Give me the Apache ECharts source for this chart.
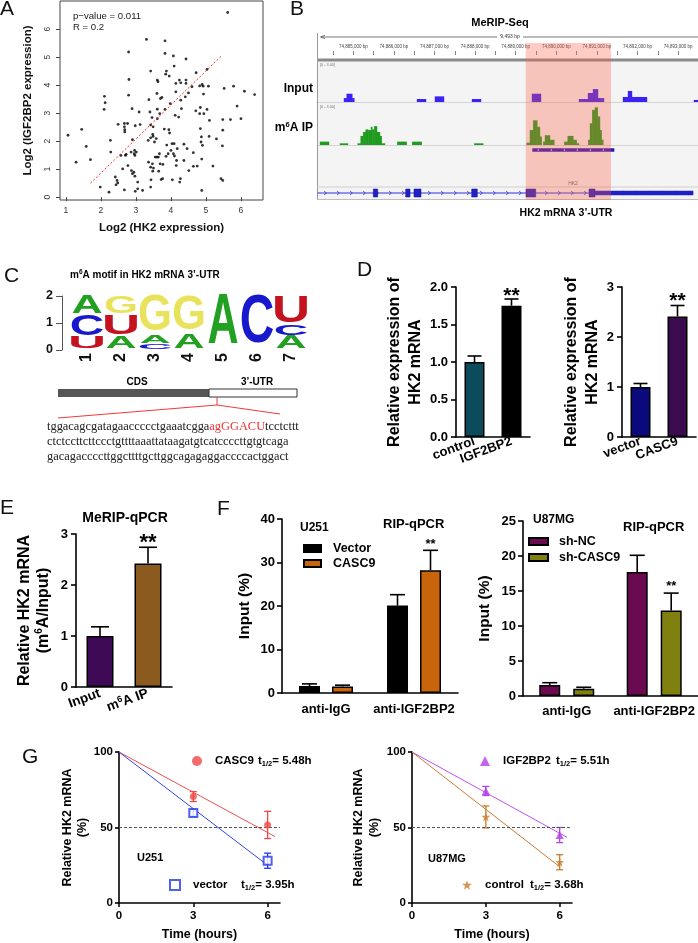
<!DOCTYPE html>
<html><head><meta charset="utf-8">
<script src="https://cdn.jsdelivr.net/npm/echarts@6.0.0/dist/echarts.min.js"></script>
<style>html,body{margin:0;padding:0;background:#fff;}#chart{width:698px;height:943px;}</style>
</head><body><div id="chart"></div>
<script>
// ================= DATA =================
// Panel A: correlation scatter (x = Log2 HK2, y = Log2 IGF2BP2)
const hk2VsIgf2bp2 = [[5.62,6.59],[3.30,5.63],[3.83,5.58],[2.79,5.18],[3.83,5.13],[4.07,5.04],[4.43,4.93],[4.09,4.68],[5.03,4.56],[3.42,4.50],[3.87,4.50],[3.85,4.39],[4.72,4.44],[3.95,4.32],[2.80,4.20],[3.61,4.18],[3.63,4.12],[4.24,4.18],[4.43,4.18],[4.28,4.08],[4.14,4.06],[4.43,4.06],[4.89,4.02],[4.82,3.97],[4.92,3.96],[5.07,3.96],[4.60,3.94],[5.52,3.88],[5.79,3.96],[6.10,3.78],[6.39,3.66],[2.10,3.60],[2.79,3.64],[3.60,3.70],[4.41,3.58],[4.14,3.76],[4.50,3.72],[4.93,3.68],[3.70,3.52],[3.74,3.56],[3.37,3.48],[2.12,3.37],[4.28,3.46],[3.98,3.34],[4.30,3.16],[4.84,3.20],[5.89,3.25],[2.09,3.13],[2.89,3.16],[3.61,3.14],[3.83,3.13],[4.71,3.08],[5.03,3.13],[3.09,3.04],[3.40,3.04],[4.82,2.98],[4.94,2.98],[3.68,2.98],[4.12,2.92],[4.22,2.86],[5.10,2.74],[5.70,2.77],[6.00,2.80],[5.48,2.77],[3.46,2.84],[3.61,2.80],[2.49,2.60],[2.67,2.63],[2.76,2.63],[3.12,2.59],[2.98,2.55],[3.42,2.58],[3.49,2.51],[2.67,2.51],[2.68,2.41],[1.45,2.42],[3.81,2.43],[3.94,2.41],[4.84,2.45],[5.48,2.39],[2.68,2.33],[3.48,2.24],[3.96,2.29],[3.42,2.12],[3.49,2.17],[1.06,2.21],[3.58,2.09],[2.90,2.05],[3.35,2.03],[2.27,2.03],[4.87,2.15],[5.09,2.17],[5.30,2.08],[3.53,1.97],[4.86,1.97],[4.03,1.91],[4.09,1.91],[4.37,1.89],[1.58,1.81],[4.90,1.85],[3.88,1.86],[5.47,1.83],[4.18,1.73],[2.96,1.67],[3.01,1.61],[2.95,1.55],[2.86,1.61],[4.46,1.73],[4.00,1.67],[2.28,1.61],[4.07,1.55],[2.57,1.49],[2.70,1.49],[2.72,1.53],[2.97,1.49],[3.92,1.55],[4.64,1.59],[3.55,1.43],[3.60,1.43],[3.64,1.43],[3.67,1.55],[3.86,1.46],[4.10,1.47],[4.16,1.31],[1.70,1.34],[4.37,1.31],[4.88,1.36],[1.29,1.25],[3.36,1.25],[3.47,1.19],[3.69,1.19],[3.77,1.17],[2.77,1.13],[4.15,1.13],[5.20,1.11],[4.64,1.10],[4.75,1.11],[3.42,1.07],[3.50,1.04],[2.62,1.01],[2.87,0.95],[2.94,0.89],[3.48,0.93],[3.65,0.93],[4.51,0.95],[2.41,0.72],[2.46,0.60],[2.48,0.51],[2.43,0.44],[2.90,0.84],[2.97,0.75],[3.05,0.54],[3.43,0.62],[3.72,0.63],[3.76,0.66],[4.04,0.62],[4.27,0.66],[4.25,0.54],[5.43,0.66],[5.48,0.60],[1.98,0.36],[2.23,0.18],[2.67,0.26],[2.98,0.21],[3.05,0.30],[3.19,0.24],[3.42,0.36],[4.88,0.24]];
const fitLineA = [[1.7,0.5],[5.45,5.05]];
const statsA = ['p\u2212value = 0.011', 'R = 0.2'];
const ticksAX = [1,2,3,4,5,6];
const ticksAY = [0,1,2,3,4,5,6];

// Panel B: MeRIP-Seq browser view (genomic coordinates, coverage 0-3)
const regionStart = 74884106, regionEnd = 74893490;
const regionLengthLabel = '9,493 bp';
const rulerLabelPos = [74885000,74886000,74887000,74888000,74889000,74890000,74891000,74892000,74893000];
const rulerTickPos = [74884500,74885000,74885500,74886000,74886500,74887000,74887500,74888000,74888500,74889000,74889500,74890000,74890500,74891000,74891500,74892000,74892500,74893000];
const inputCoverage = [
  [74884771,74884837,0.33],[74884837,74884975,0.69],[74884975,74885025,0.33],
  [74886569,74886791,0.25],
  [74887012,74887234,0.47],
  [74887924,74888145,0.25],
  [74889401,74889623,0.69],
  [74890559,74890781,0.25],[74890781,74890904,0.75],[74890904,74891027,1.08],[74891027,74891175,0.33],
  [74891643,74891766,0.42],[74891766,74891864,0.92],[74891864,74892234,0.42],
  [74893392,74893490,0.17]
];
const ipCoverage = [
  [74884180,74884402,0.26],
  [74884672,74884869,0.13],
  [74885108,74885182,0.13],[74885182,74885246,0.7],[74885246,74885306,1.0],[74885306,74885370,1.2],[74885370,74885436,1.15],[74885436,74885468,1.4],[74885468,74885517,1.2],[74885517,74885584,1.45],[74885584,74885658,1.0],[74885658,74885700,0.7],[74885700,74885781,0.13],
  [74886084,74886315,0.26],
  [74886453,74886685,0.26],
  [74887980,74888202,0.13],
  [74889271,74889352,0.18],[74889352,74889433,1.15],[74889433,74889532,1.9],[74889532,74889598,1.4],[74889598,74889640,0.65],
  [74889680,74889722,0.26],[74889722,74889845,0.75],[74889845,74889951,0.4],
  [74890197,74890281,0.26],[74890281,74890419,0.7],[74890419,74890502,0.4],[74890502,74890559,0.13],
  [74890788,74890830,0.4],[74890830,74890887,1.67],[74890887,74890953,2.7],[74890953,74891020,2.9],[74891020,74891076,2.2],[74891076,74891118,1.15],[74891118,74891158,0.4]
];
const trackRangeLabel = '[0 - 3.00]';
const meripPeak = [74889409, 74891429];
const highlight3UTR = [74889246, 74891347];
const hk2Gene = [74884120, 74893374];
const hk2Exons = [[74885493,74885601],[74886291,74886397],[74886495,74886668],[74887916,74888054],[74889254,74889493],[74890805,74890953]];
const hk2UTR = [74890953, 74893374];

// Panel C: motif logo (bits) and sequence
const motifPositions = ['1','2','3','4','5','6','7'];
const motifStacks = [
  [['U',0.45],['C',0.83],['A',0.70]],
  [['A',0.48],['U',0.80],['G',0.70]],
  [['C',0.22],['A',0.33],['G',1.42]],
  [['A',0.57],['G',1.40]],
  [['A',2.0]],
  [['C',2.0]],
  [['A',0.50],['C',0.40],['U',1.08]]
];
const seqLine1 = ['tggacagcgatagaaccccctgaaatcgga', 'agGGACU', 'tcctcttt'];
const seqLine2 = 'ctctccttcttccctgttttaaattataagatgtcatccccttgtgtcaga';
const seqLine3 = 'gacagaccccttggcttttgcttggcagagaggaccccactggact';

// Panel D
const d1Cats = ['control','IGF2BP2'], d1Vals = [1.0, 1.75], d1Err = [0.08, 0.09], d1Sig = ['', '**'];
const d2Cats = ['vector','CASC9'], d2Vals = [1.0, 2.41], d2Err = [0.07, 0.22], d2Sig = ['', '**'];
// Panel E
const eCats = ['Input','m6A IP'], eVals = [1.0, 2.42], eErr = [0.18, 0.32], eSig = ['', '**'];
// Panel F
const fCats = ['anti-IgG','anti-IGF2BP2'];
const fU251Vector = [1.6, 20.1], fU251VectorErr = [0.5, 2.5];
const fU251Casc9 = [1.5, 28.2], fU251Casc9Err = [0.3, 4.6], fU251Sig = ['', '**'];
const fU87NC = [1.57, 17.7], fU87NCErr = [0.33, 2.4];
const fU87Sh = [1.05, 12.2], fU87ShErr = [0.2, 2.5], fU87Sig = ['', '**'];
// Panel G
const timeHours = [3, 6];
const u251Casc9 = [70.5, 51.7], u251Casc9Err = [3.3, 9];
const u251Vector = [59.6, 28], u251VectorErr = [2.2, 5];
const u87Igf2bp2 = [74.2, 45], u87Igf2bp2Err = [3, 5];
const u87Control = [57, 27], u87ControlErr = [7.3, 5];
const u251Casc9Fit = [[0,100],[6.3,44]];
const u251VectorFit = [[0,100],[6,25]];
const u87Igf2bp2Fit = [[0,100],[6.3,43.5]];
const u87ControlFit = [[0,100],[6,24]];
const halfLives = {'U251 CASC9':['CASC9',5.48], 'U251 vector':['vector',3.95], 'U87 IGF2BP2':['IGF2BP2',5.51], 'U87 control':['control',3.68]};

// ================= HELPERS =================
const FS = '"Liberation Sans", Arial, Helvetica, sans-serif';
const SERIF = '"Liberation Serif", "Times New Roman", serif';

function T(x, y, text, o){
  o = o || {};
  const st = {text:text, fill:o.fill||'#000', fontSize:o.size||12, fontWeight:o.weight||'normal', fontFamily:o.family||FS,
    align:o.align||'left', verticalAlign:'middle', textAlign:o.align||'left', textVerticalAlign:'middle'};
  if (o.rich) st.rich = o.rich;
  return {type:'text', x:x, y:y, z:o.z||20, style:st, silent:true};
}
function L(x1,y1,x2,y2,stroke,w,z){ return {type:'line', shape:{x1,y1,x2,y2}, style:{stroke, lineWidth:w||1}, z:z||1, silent:true}; }

const axBlack = {lineStyle:{color:'#000', width:1.6}};
const tkBlack = {length:5, lineStyle:{color:'#000', width:1.6}};

function gpCatX(gi, cats, lbl){
  return {gridIndex:gi, type:'category', data:cats, axisLine:axBlack,
    axisTick:Object.assign({alignWithLabel:true}, tkBlack),
    axisLabel:Object.assign({interval:0, color:'#000', fontWeight:'bold', fontSize:13, fontFamily:FS}, lbl||{}),
    splitLine:{show:false}};
}
function gpValY(gi, min, max, interval, name, gap, o){
  o = o || {};
  return {gridIndex:gi, type:'value', min, max, interval, axisLine:Object.assign({show:true}, axBlack),
    axisTick:Object.assign({show:true}, tkBlack), splitLine:{show:false},
    axisLabel:{color:'#000', fontWeight:'bold', fontSize:o.lsize||13, fontFamily:FS, margin:o.margin||8, formatter:o.fmt},
    name:name, nameLocation:'middle', nameRotate:90, nameGap:gap,
    nameTextStyle:{color:'#000', fontWeight:'bold', fontSize:o.nsize||16, fontFamily:FS, lineHeight:o.nlh||21, rich:o.rich}};
}

function coverageSeries(gi, segs, color){
  return {type:'custom', xAxisIndex:gi, yAxisIndex:gi, z:3, silent:true, data:segs, encode:{x:[0,1], y:2},
    renderItem:(params, api)=>{
      const a=api.coord([api.value(0), api.value(2)]), b=api.coord([api.value(1), 0]);
      return {type:'rect', shape:{x:a[0]-0.2, y:a[1], width:b[0]-a[0]+0.4, height:b[1]-a[1]}, style:{fill:color}};
    }};
}

function errBars(gi, vals, errs, sig, o){
  return {type:'custom', xAxisIndex:gi, yAxisIndex:gi, z:4, silent:true,
    data: vals.map((v,i)=>[i, v, errs[i]]), encode:{x:0, y:1},
    renderItem:(params, api)=>{
      const i=api.value(0), v=api.value(1), e=api.value(2);
      const b=api.coord([i,v]), t=api.coord([i,v+e]);
      const x=b[0]+(o.offset||0);
      const st={stroke:'#000', lineWidth:1.6};
      const ch=[{type:'line',shape:{x1:x,y1:b[1],x2:x,y2:t[1]},style:st},
                {type:'line',shape:{x1:x-o.cap,y1:t[1],x2:x+o.cap,y2:t[1]},style:st}];
      if (sig && sig[i]) ch.push({type:'text', x:x, y:t[1]-o.sigGap, style:{text:sig[i], fill:'#000', fontSize:o.sigSize, fontWeight:'bold', fontFamily:FS, align:'center', verticalAlign:'middle', textAlign:'center', textVerticalAlign:'middle'}});
      return {type:'group', children:ch};
    }};
}
function symErr(gi, xs, vals, errs, color){
  return {type:'custom', xAxisIndex:gi, yAxisIndex:gi, z:4, silent:true,
    data: xs.map((x,i)=>[x, vals[i], errs[i]]), encode:{x:0, y:1},
    renderItem:(params, api)=>{
      const x0=api.value(0), v=api.value(1), e=api.value(2);
      const lo=api.coord([x0,v-e]), hi=api.coord([x0,v+e]);
      const st={stroke:color, lineWidth:1.3};
      return {type:'group', children:[
        {type:'line',shape:{x1:lo[0],y1:lo[1],x2:hi[0],y2:hi[1]},style:st},
        {type:'line',shape:{x1:lo[0]-3.5,y1:lo[1],x2:lo[0]+3.5,y2:lo[1]},style:st},
        {type:'line',shape:{x1:hi[0]-3.5,y1:hi[1],x2:hi[0]+3.5,y2:hi[1]},style:st}]};
    }};
}

// motif letters
const LETTERS = 'ACGU';
const letterColor = {A:'#22a022', C:'#1818cc', G:'#e9e35c', U:'#c4121e'};
const letterInk = {A:0.71, C:0.64, G:0.70, U:0.58};
const letterCap = {A:0.729, C:0.75, G:0.75, U:0.74};
const motifData = [];
motifStacks.forEach((stack, i)=>{ let y=0; stack.forEach(([Lt,h])=>{ motifData.push([i, y, y+h, LETTERS.indexOf(Lt)]); y+=h; }); });

const featureData = [[hk2Gene[0], hk2Gene[1], 0]]
  .concat(hk2Exons.map(e=>[e[0], e[1], 1]))
  .concat([[hk2UTR[0], hk2UTR[1], 2], [meripPeak[0], meripPeak[1], 3]]);

const starPath = 'path://M12,0 L14.9,8.6 L24,8.7 L16.7,14.1 L19.4,23 L12,17.7 L4.6,23 L7.3,14.1 L0,8.7 L9.1,8.6 Z';

function gLegend(name, left, top, padL, w){
  const hl = halfLives[name];
  return {data:[name], left:left, top:top, padding:0, itemWidth:10, itemHeight:10, selectedMode:false,
    formatter: n => '{n|' + hl[0] + '}{t|t}{s|1/2}{t|= ' + hl[1].toFixed(2) + 'h}',
    textStyle:{color:'#000', fontFamily:FS, fontWeight:'bold', fontSize:11.5, rich:{
      n:{fontFamily:FS, fontWeight:'bold', fontSize:11.5, color:'#000', width:w, padding:[0,0,0,padL], lineHeight:14},
      t:{fontFamily:FS, fontWeight:'bold', fontSize:11.5, color:'#000', lineHeight:14},
      s:{fontFamily:FS, fontWeight:'bold', fontSize:7.5, color:'#000', verticalAlign:'bottom', lineHeight:9}}}};
}
function barLegend(names, left, top, iw, padL, gap){
  return {data:names, left, top, padding:0, orient:'vertical', icon:'rect', itemWidth:iw, itemHeight:7, itemGap:gap, selectedMode:false,
    formatter: n => '{a|' + n + '}',
    textStyle:{rich:{a:{fontFamily:FS, fontWeight:'bold', fontSize:12.5, color:'#000', padding:[0,0,0,padL], lineHeight:14}}}};
}

// ================= OPTION =================
const grids = [
  {left:60, top:1, width:203, height:199, show:true, borderColor:'#444', borderWidth:1},
  {left:317, top:40, width:381, height:15},
  {left:317, top:61, width:381, height:139, show:true, backgroundColor:'#f4f4f4', borderWidth:0},
  {left:317, top:66, width:381, height:36},
  {left:317, top:106, width:381, height:39},
  {left:317, top:147, width:381, height:53},
  {left:70, top:296, width:238, height:54},
  {left:456, top:287, width:74, height:150},
  {left:622, top:287, width:74, height:150},
  {left:76, top:534, width:96, height:153},
  {left:282, top:519, width:176, height:174},
  {left:523, top:521, width:175, height:175},
  {left:119, top:752, width:161, height:151},
  {left:412, top:752, width:160, height:151}
];
const hidden = (gi, min, max, type)=>({gridIndex:gi, type:type||'value', min, max, show:false, splitLine:{show:false}});
const trackX = gi => ({gridIndex:gi, type:'value', min:regionStart, max:regionEnd, axisLine:{show:true, lineStyle:{color:'#d4d4d4', width:1}}, axisTick:{show:false}, axisLabel:{show:false}, splitLine:{show:false}});

const xAxes = [
  {gridIndex:0, type:'value', min:0.83, max:6.63, axisLine:{show:false}, splitLine:{show:false},
   axisTick:{customValues:ticksAX, length:4, lineStyle:{color:'#444'}},
   axisLabel:{customValues:ticksAX, fontSize:8.5, color:'#333', margin:6, fontFamily:FS},
   name:'Log2 (HK2 expression)', nameLocation:'middle', nameGap:22,
   nameTextStyle:{fontWeight:'bold', fontSize:11.5, color:'#111', fontFamily:FS}},
  {gridIndex:1, type:'value', min:regionStart, max:regionEnd, axisLine:{show:false}, splitLine:{show:false},
   axisTick:{inside:true, length:4, customValues:rulerTickPos, lineStyle:{color:'#666', width:0.8}},
   axisLabel:{inside:true, margin:5.5, customValues:rulerLabelPos, fontSize:4.5, color:'#444', fontFamily:FS,
     formatter: v => Number(v).toLocaleString('en-US') + ' bp'}},
  hidden(2, regionStart, regionEnd),
  trackX(3), trackX(4),
  hidden(5, regionStart, regionEnd),
  {gridIndex:6, type:'category', data:motifPositions, axisLine:{show:false}, axisTick:{show:false}, splitLine:{show:false},
   axisLabel:{rotate:90, fontWeight:'bold', fontSize:16, color:'#111', margin:3, fontFamily:FS}},
  gpCatX(7, d1Cats, {rotate:20, margin:4}),
  gpCatX(8, d2Cats, {rotate:20, margin:4}),
  gpCatX(9, eCats, {rotate:20, margin:6, formatter: v => v === 'm6A IP' ? '{b|m}{s|6}{b|A IP}' : '{b|' + v + '}',
    rich:{b:{fontFamily:FS, fontWeight:'bold', fontSize:13.5, color:'#000', lineHeight:16}, s:{fontFamily:FS, fontWeight:'bold', fontSize:9, color:'#000', verticalAlign:'top', lineHeight:10}}}),
  gpCatX(10, fCats, {margin:10}),
  gpCatX(11, fCats, {margin:9}),
  {gridIndex:12, type:'value', min:0, max:6.5, axisLine:axBlack, axisTick:{customValues:[0,3,6], length:4, lineStyle:{color:'#000', width:1.5}},
   axisLabel:{customValues:[0,3,6], color:'#000', fontWeight:'bold', fontSize:11.5, margin:7, fontFamily:FS}, splitLine:{show:false},
   name:'Time (hours)', nameLocation:'middle', nameGap:25, nameTextStyle:{color:'#000', fontWeight:'bold', fontSize:12.5, fontFamily:FS}},
  {gridIndex:13, type:'value', min:0, max:6.5, axisLine:axBlack, axisTick:{customValues:[0,3,6], length:4, lineStyle:{color:'#000', width:1.5}},
   axisLabel:{customValues:[0,3,6], color:'#000', fontWeight:'bold', fontSize:11.5, margin:7, fontFamily:FS}, splitLine:{show:false},
   name:'Time (hours)', nameLocation:'middle', nameGap:25, nameTextStyle:{color:'#000', fontWeight:'bold', fontSize:12.5, fontFamily:FS}}
];
const yAxes = [
  {gridIndex:0, type:'value', min:-0.1, max:7, axisLine:{show:false}, splitLine:{show:false},
   axisTick:{customValues:ticksAY, length:4, lineStyle:{color:'#444'}},
   axisLabel:{customValues:ticksAY, rotate:90, fontSize:8.5, color:'#333', margin:8, fontFamily:FS},
   name:'Log2 (IGF2BP2 expression)', nameLocation:'middle', nameRotate:90, nameGap:26,
   nameTextStyle:{fontWeight:'bold', fontSize:11.5, color:'#111', fontFamily:FS}},
  hidden(1, 0, 1), hidden(2, 0, 1), hidden(3, 0, 3), hidden(4, 0, 3), hidden(5, 0, 1),
  {gridIndex:6, type:'value', min:0, max:2, interval:1, offset:8, splitLine:{show:false},
   axisLine:{show:true, lineStyle:{color:'#555', width:1}}, axisTick:{show:true, length:6, lineStyle:{color:'#555'}},
   axisLabel:{fontWeight:'bold', fontSize:12.5, color:'#111', margin:9, fontFamily:FS}},
  gpValY(7, 0, 2, 0.5, 'Relative expression of\nHK2 mRNA', 29, {fmt: v => v.toFixed(1)}),
  gpValY(8, 0, 3, 1, 'Relative expression of\nHK2 mRNA', 15.5),
  gpValY(9, 0, 3, 1, '{a|Relative HK2 mRNA}\n{a|(m}{s|6}{a|A/Input)}', 22.5, {nlh:19, rich:{
     a:{fontFamily:FS, fontWeight:'bold', fontSize:16, color:'#000', lineHeight:19},
     s:{fontFamily:FS, fontWeight:'bold', fontSize:10, color:'#000', verticalAlign:'top', lineHeight:12}}}),
  gpValY(10, 0, 40, 10, 'Input (%)', 26.5, {nsize:15.5, margin:7}),
  gpValY(11, 0, 25, 5, 'Input (%)', 27.5, {nsize:15.5, margin:7}),
  gpValY(12, 0, 100, 50, 'Relative HK2 mRNA\n(%)', 28.5, {nsize:12.5, nlh:15, lsize:11.5, margin:6}),
  gpValY(13, 0, 100, 50, 'Relative HK2 mRNA\n(%)', 26, {nsize:12.5, nlh:16, lsize:11.5, margin:6})
];
yAxes[12].axisTick.length = 4; yAxes[13].axisTick.length = 4;

const series = [
  // A
  {type:'scatter', xAxisIndex:0, yAxisIndex:0, data:hk2VsIgf2bp2, symbol:'circle', symbolSize:2.8, itemStyle:{color:'#000'}, silent:true},
  {type:'line', xAxisIndex:0, yAxisIndex:0, data:fitLineA, symbol:'none', lineStyle:{color:'#ff2a2a', width:1, type:[2,2]}, silent:true},
  // B pink highlight (overlay)
  {type:'custom', xAxisIndex:2, yAxisIndex:2, z:10, silent:true, data:[highlight3UTR], encode:{x:[0,1]},
   renderItem:(params, api)=>{
     const a=api.coord([api.value(0),0]), b=api.coord([api.value(1),0]); const cs=params.coordSys;
     return {type:'rect', shape:{x:a[0], y:cs.y-18, width:b[0]-a[0], height:cs.height+18}, style:{fill:'rgba(255,96,70,0.32)'}};
   }},
  // B coverage tracks
  coverageSeries(3, inputCoverage, '#3c22f2'),
  coverageSeries(4, ipCoverage, '#1f9c1f'),
  // B gene model + peak
  {type:'custom', xAxisIndex:5, yAxisIndex:5, z:3, silent:true, data:featureData, encode:{x:[0,1]},
   renderItem:(params, api)=>{
     const s=Math.max(api.value(0), regionStart), e=Math.min(api.value(1), regionEnd), k=api.value(2);
     const cs=params.coordSys; const x1=api.coord([s,0])[0], x2=api.coord([e,0])[0];
     const col='#2020c8';
     if (k===0){
       const y=cs.y+46; const ch=[{type:'line', shape:{x1,y1:y,x2,y2:y}, style:{stroke:'#3030e0', lineWidth:1}}];
       for (let x=x1+8; x<x2-3; x+=13) ch.push({type:'polyline', shape:{points:[[x-1.5,y-2],[x+0.8,y],[x-1.5,y+2]]}, style:{stroke:'#3030e0', lineWidth:0.8, fill:null}});
       return {type:'group', children:ch};
     }
     if (k===1) return {type:'rect', shape:{x:x1, y:cs.y+42, width:x2-x1, height:8}, style:{fill:col, stroke:'#10108a', lineWidth:0.5}};
     if (k===2) return {type:'rect', shape:{x:x1, y:cs.y+43.8, width:x2-x1, height:4.4}, style:{fill:col}};
     const y=cs.y+3; const ch=[{type:'rect', shape:{x:x1, y:y-1.8, width:x2-x1, height:3.6}, style:{fill:'#2a16b8'}}];
     for (let x=x1+6; x<x2-3; x+=13) ch.push({type:'polyline', shape:{points:[[x+0.8,y-1],[x-0.6,y],[x+0.8,y+1]]}, style:{stroke:'#fff', lineWidth:0.6, fill:null}});
     return {type:'group', children:ch};
   }},
  // C motif logo
  {type:'custom', xAxisIndex:6, yAxisIndex:6, silent:true, data:motifData, encode:{x:0, y:[1,2]},
   renderItem:(params, api)=>{
     const i=api.value(0), y0=api.value(1), y1=api.value(2), Lt=LETTERS[api.value(3)];
     const pb=api.coord([i,y0]), pt=api.coord([i,y1]);
     const bw=api.size([1,0])[0]; const w=bw*0.9; const h=(pb[1]-pt[1])*0.96;
     const fs=w/letterInk[Lt]; const sy=h/(letterCap[Lt]*fs);
     return {type:'text', x:pb[0], y:(pb[1]+pt[1])/2, scaleX:1, scaleY:sy,
       style:{text:Lt, fontSize:fs, fontWeight:'bold', fontFamily:FS, fill:letterColor[Lt], align:'center', verticalAlign:'middle', textAlign:'center', textVerticalAlign:'middle'}};
   }},
  // D1
  {type:'bar', xAxisIndex:7, yAxisIndex:7, barWidth:20, silent:true,
   data:d1Vals.map((v,i)=>({value:v, itemStyle:{color:['#0c4b5c','#000000'][i]}})), itemStyle:{borderColor:'#000', borderWidth:1.5}},
  errBars(7, d1Vals, d1Err, d1Sig, {cap:7, sigGap:3, sigSize:21}),
  // D2
  {type:'bar', xAxisIndex:8, yAxisIndex:8, barWidth:20, silent:true,
   data:d2Vals.map((v,i)=>({value:v, itemStyle:{color:['#0a0a7c','#3c0a4e'][i]}})), itemStyle:{borderColor:'#000', borderWidth:1.5}},
  errBars(8, d2Vals, d2Err, d2Sig, {cap:7, sigGap:4, sigSize:21}),
  // E
  {type:'bar', xAxisIndex:9, yAxisIndex:9, barWidth:27, silent:true,
   data:eVals.map((v,i)=>({value:v, itemStyle:{color:['#3e0a56','#8a5a1e'][i]}})), itemStyle:{borderColor:'#000', borderWidth:1.5}},
  errBars(9, eVals, eErr, eSig, {cap:9, sigGap:4, sigSize:22}),
  // F1
  {name:'Vector', type:'bar', xAxisIndex:10, yAxisIndex:10, barWidth:21, barGap:'57%', data:fU251Vector, silent:true, itemStyle:{color:'#000', borderColor:'#000', borderWidth:1.5}},
  {name:'CASC9', type:'bar', xAxisIndex:10, yAxisIndex:10, barWidth:21, barGap:'57%', data:fU251Casc9, silent:true, itemStyle:{color:'#c8640c', borderColor:'#000', borderWidth:1.5}},
  errBars(10, fU251Vector, fU251VectorErr, null, {cap:7.5, offset:-16.5}),
  errBars(10, fU251Casc9, fU251Casc9Err, fU251Sig, {cap:7.5, offset:16.5, sigGap:6, sigSize:13}),
  // F2
  {name:'sh-NC', type:'bar', xAxisIndex:11, yAxisIndex:11, barWidth:21, barGap:'62%', data:fU87NC, silent:true, itemStyle:{color:'#6a0a50', borderColor:'#000', borderWidth:1.5}},
  {name:'sh-CASC9', type:'bar', xAxisIndex:11, yAxisIndex:11, barWidth:21, barGap:'62%', data:fU87Sh, silent:true, itemStyle:{color:'#808010', borderColor:'#000', borderWidth:1.5}},
  errBars(11, fU87NC, fU87NCErr, null, {cap:7.5, offset:-17}),
  errBars(11, fU87Sh, fU87ShErr, fU87Sig, {cap:7.5, offset:17, sigGap:7, sigSize:13}),
  // G1
  {type:'line', xAxisIndex:12, yAxisIndex:12, data:u251Casc9Fit, symbol:'none', silent:true, lineStyle:{color:'#f05050', width:1},
   markLine:{silent:true, symbol:'none', label:{show:false}, lineStyle:{type:[3,2], color:'#555', width:1}, data:[{yAxis:50}]}},
  {type:'line', xAxisIndex:12, yAxisIndex:12, data:u251VectorFit, symbol:'none', silent:true, lineStyle:{color:'#3444f0', width:1}},
  symErr(12, timeHours, u251Casc9, u251Casc9Err, '#f04848'),
  symErr(12, timeHours, u251Vector, u251VectorErr, '#2438ee'),
  {name:'U251 CASC9', type:'scatter', xAxisIndex:12, yAxisIndex:12, data:timeHours.map((t,i)=>[t,u251Casc9[i]]), symbol:'circle', symbolSize:7, itemStyle:{color:'#f04848'}, z:5, silent:true},
  {name:'U251 vector', type:'scatter', xAxisIndex:12, yAxisIndex:12, data:timeHours.map((t,i)=>[t,u251Vector[i]]), symbol:'emptyRect', symbolSize:8, itemStyle:{color:'#2438ee', borderWidth:1.8}, z:5, silent:true},
  // G2
  {type:'line', xAxisIndex:13, yAxisIndex:13, data:u87Igf2bp2Fit, symbol:'none', silent:true, lineStyle:{color:'#c050f0', width:1},
   markLine:{silent:true, symbol:'none', label:{show:false}, lineStyle:{type:[3,2], color:'#555', width:1}, data:[{yAxis:50}]}},
  {type:'line', xAxisIndex:13, yAxisIndex:13, data:u87ControlFit, symbol:'none', silent:true, lineStyle:{color:'#c87a30', width:1}},
  symErr(13, timeHours, u87Igf2bp2, u87Igf2bp2Err, '#b43ee8'),
  symErr(13, timeHours, u87Control, u87ControlErr, '#c87a2a'),
  {name:'U87 IGF2BP2', type:'scatter', xAxisIndex:13, yAxisIndex:13, data:timeHours.map((t,i)=>[t,u87Igf2bp2[i]]), symbol:'triangle', symbolSize:8, itemStyle:{color:'#b43ee8'}, z:5, silent:true},
  {name:'U87 control', type:'scatter', xAxisIndex:13, yAxisIndex:13, data:timeHours.map((t,i)=>[t,u87Control[i]]), symbol:starPath, symbolSize:9, itemStyle:{color:'#c87a2a'}, z:5, silent:true}
];

// ================= GRAPHICS (labels, schematic) =================
const sup = (size)=>({fontSize:size, fontWeight:'bold', fontFamily:FS, fill:'#000', verticalAlign:'top', lineHeight:size+1.5});
const g = [];
[['A',0,9.5],['B',290,9.5],['C',4,276],['D',357,270],['E',0,508],['F',217,509],['G',22,757.5]].forEach(([t,x,y])=>g.push(T(x,y,t,{size:21, fill:'#111'})));
g.push(T(73,16,statsA[0],{size:9.6, fill:'#222'}));
g.push(T(73,27,statsA[1],{size:9.6, fill:'#222'}));
// B
g.push(T(500,23,'MeRIP-Seq',{size:11, weight:'bold', align:'center'}));
g.push(T(313,89,'Input',{size:12, weight:'bold', align:'right'}));
g.push(T(313,128,'{b|m}{s|6}{b|A IP}',{size:12, weight:'bold', align:'right', rich:{b:{fontSize:12, fontWeight:'bold', fontFamily:FS, fill:'#000', lineHeight:15}, s:sup(7.5)}}));
g.push(T(566,213,'HK2 mRNA 3\u2019-UTR',{size:10.5, weight:'bold', align:'center'}));
g.push(L(321,37,497,37,'#555',0.8));
g.push({type:'polyline', shape:{points:[[325,35.3],[320.5,37],[325,38.7]]}, style:{stroke:'#555', lineWidth:0.8, fill:null}, silent:true});
g.push(L(523,37,698,37,'#555',0.8));
g.push(T(510,37,regionLengthLabel,{size:5, fill:'#333', align:'center'}));
g.push({type:'rect', shape:{x:317, y:58.5, width:381, height:3}, style:{fill:'#8a8a8a'}, z:1, silent:true});
g.push(L(317.5,33,317.5,200,'#999',1));
g.push(T(320,64.5,trackRangeLabel,{size:3.8, fill:'#777', z:1}));
g.push(T(320,106.5,trackRangeLabel,{size:3.8, fill:'#777', z:1}));
g.push(L(317,187,698,187,'#cfcfcf',1));
g.push(L(317,199.5,698,199.5,'#bdbdbd',1));
g.push(T(573,184,'HK2',{size:5, fill:'#666', align:'center', z:1}));
// C
g.push(T(70,275.5,'{b|m}{s|6}{b|A motif in HK2 mRNA 3\u2019-UTR}',{size:10, weight:'bold', rich:{b:{fontSize:10, fontWeight:'bold', fontFamily:FS, fill:'#000', lineHeight:13}, s:sup(6.5)}}));
g.push({type:'rect', shape:{x:58, y:389, width:151, height:8}, style:{fill:'#555'}, silent:true});
g.push({type:'rect', shape:{x:209, y:389, width:88, height:8}, style:{fill:'#fff', stroke:'#333', lineWidth:1}, silent:true});
g.push(T(137,382,'CDS',{size:10, weight:'bold', align:'center'}));
g.push(T(257,382,'3\u2019-UTR',{size:10, weight:'bold', align:'center'}));
g.push(L(217,397,217,405,'#f03a3a',1));
g.push({type:'polyline', shape:{points:[[58,418],[217,405],[280,414]]}, style:{stroke:'#f03a3a', lineWidth:1, fill:null}, silent:true});
g.push(T(47,427,'{n|'+seqLine1[0]+'}{r|'+seqLine1[1]+'}{n|'+seqLine1[2]+'}',{size:12.4, family:SERIF, rich:{n:{fontSize:12.4, fontFamily:SERIF, fill:'#222'}, r:{fontSize:12.4, fontFamily:SERIF, fill:'#f03030'}}}));
g.push(T(47,442,seqLine2,{size:12.4, family:SERIF, fill:'#222'}));
g.push(T(47,457,seqLine3,{size:12.4, family:SERIF, fill:'#222'}));
// E
g.push(T(125,518,'MeRIP-qPCR',{size:14, weight:'bold', align:'center'}));
// F
g.push(T(300,528,'U251',{size:12, weight:'bold'}));
g.push(T(383,524,'RIP-qPCR',{size:13, weight:'bold'}));
g.push(T(533,520,'U87MG',{size:12, weight:'bold'}));
g.push(T(623,527,'RIP-qPCR',{size:13, weight:'bold'}));
// G
g.push(T(137,858,'U251',{size:11, weight:'bold'}));
g.push(T(428,859,'U87MG',{size:11, weight:'bold'}));

const option = {
  animation:false, backgroundColor:'#fff', textStyle:{fontFamily:FS},
  grid:grids, xAxis:xAxes, yAxis:yAxes,
  legend:[
    barLegend(['Vector','CASC9'], 303, 542, 17, 7, 2),
    barLegend(['sh-NC','sh-CASC9'], 528, 535, 19, 6, 3),
    gLegend('U251 CASC9', 192, 755, 8, 43),
    gLegend('U251 vector', 169, 879, 8, 48),
    gLegend('U87 IGF2BP2', 480, 755, 8, 53),
    gLegend('U87 control', 462, 879, 8, 45)
  ],
  graphic:{elements:g},
  series:series
};
const chart = echarts.init(document.getElementById('chart'), null, {renderer:'canvas', width:698, height:943});
chart.setOption(option);
</script></body></html>
